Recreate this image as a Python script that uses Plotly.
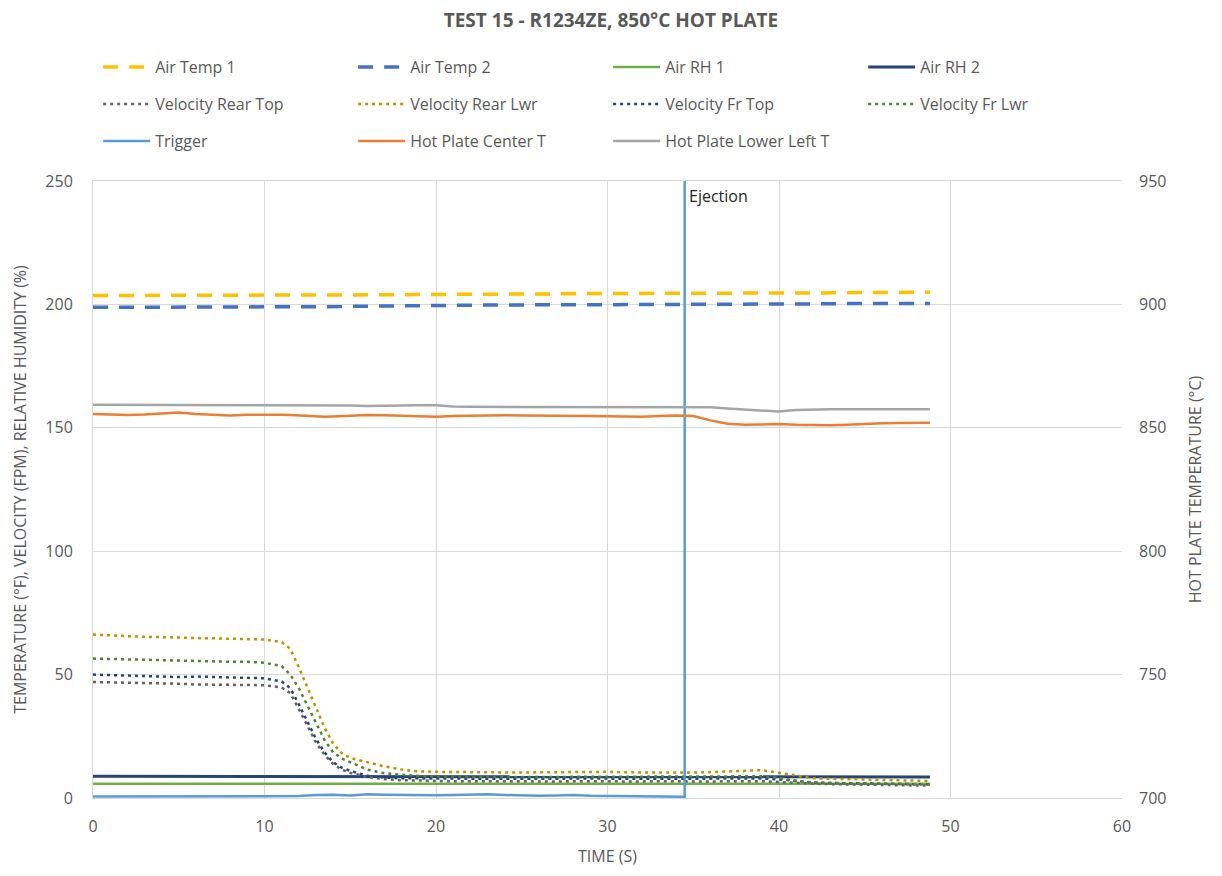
import plotly.graph_objects as go

time = [0, 1, 2, 3, 4, 5, 6, 7, 8, 9, 10, 11,
        11.5, 12, 12.5, 13, 13.5, 14, 14.5, 15,
        16, 17, 18, 19, 20, 21, 22, 23, 24, 25, 26, 27, 28, 29, 30, 31, 32,
        33, 34, 35, 36, 37, 38, 39, 40, 41, 42, 43, 44, 45, 46, 47, 48, 48.8]

air_temp_1 = [203.6, 203.6, 203.6, 203.6, 203.6, 203.6, 203.6, 203.6, 203.6, 203.6, 203.6, 203.6,
              203.6, 203.6, 203.6, 203.6, 203.6, 203.7, 203.7, 203.7,
              203.8, 203.9, 203.9, 204.0, 204.0, 204.0, 204.1, 204.1, 204.2, 204.2, 204.3, 204.3,
              204.3, 204.4, 204.4, 204.4, 204.5, 204.5, 204.5, 204.5, 204.6, 204.6, 204.6, 204.6,
              204.6, 204.6, 204.7, 204.7, 204.7, 204.8, 204.8, 204.8, 204.9, 204.9]
air_temp_2 = [198.8, 198.8, 198.8, 198.8, 198.8, 198.8, 198.8, 198.8, 198.8, 198.8, 198.8, 198.8,
              198.9, 198.9, 198.9, 199.0, 199.0, 199.1, 199.1, 199.2,
              199.3, 199.4, 199.5, 199.6, 199.7, 199.7, 199.8, 199.8, 199.8, 199.8, 199.9, 199.9,
              199.9, 199.9, 199.9, 199.9, 200.0, 200.0, 200.0, 200.0, 200.0, 200.1, 200.1, 200.1,
              200.2, 200.2, 200.2, 200.3, 200.3, 200.3, 200.3, 200.4, 200.4, 200.4]
air_rh_1 = [5.8] * 54
air_rh_2 = [8.8, 8.8, 8.8, 8.8, 8.8, 8.8, 8.8, 8.8, 8.8, 8.8, 8.8, 8.8,
            8.8, 8.8, 8.8, 8.8, 8.8, 8.8, 8.8, 8.8,
            8.8, 8.8, 8.8, 8.8, 8.8, 8.8, 8.8, 8.8, 8.8, 8.7, 8.7, 8.7, 8.7, 8.7, 8.7, 8.7, 8.7,
            8.7, 8.7, 8.7, 8.7, 8.7, 8.6, 8.6, 8.6, 8.6, 8.6, 8.6, 8.5, 8.5, 8.5, 8.5, 8.5, 8.5]

vel_rear_top = [47.0, 46.9, 46.8, 46.7, 46.6, 46.3, 46.0, 46.0, 45.9, 45.8, 45.7, 44.8,
                42.5, 36.0, 29.0, 22.5, 17.5, 13.8, 11.5, 10.2,
                8.5, 7.6, 7.2, 7.0, 6.9, 6.8, 6.8, 6.9, 6.8, 6.8, 6.7, 6.8, 6.8, 6.9, 6.8, 6.7, 6.8,
                6.8, 6.8, 6.7, 6.8, 6.8, 6.9, 6.8, 6.5, 6.0, 5.8, 5.6, 5.5, 5.4, 5.3, 5.2, 5.1, 5.0]
vel_rear_lwr = [66.2, 65.8, 65.5, 65.3, 65.2, 64.9, 64.8, 64.7, 64.6, 64.5, 64.2, 63.2,
                60.5, 53.0, 45.0, 36.5, 28.5, 22.0, 18.2, 16.2,
                14.5, 12.8, 11.5, 10.8, 10.6, 10.5, 10.4, 10.4, 10.5, 10.3, 10.4, 10.5, 10.6, 10.5,
                10.6, 10.4, 10.3, 10.5, 10.2, 10.3, 10.5, 10.6, 11.0, 11.3, 10.2, 9.0, 8.0, 7.8,
                7.6, 7.5, 7.4, 7.2, 7.0, 6.9]
vel_fr_top = [50.0, 49.8, 49.6, 49.5, 49.3, 49.0, 49.2, 49.0, 48.9, 48.8, 48.5, 47.2,
              44.5, 38.0, 31.0, 24.0, 18.5, 14.5, 12.3, 11.0,
              9.0, 8.3, 8.0, 7.9, 7.8, 7.8, 7.9, 7.8, 7.8, 7.7, 7.8, 7.8, 7.9, 7.8, 7.8, 7.7, 7.8,
              7.8, 7.8, 7.8, 7.9, 7.8, 7.8, 7.9, 7.5, 6.8, 6.3, 6.1, 6.0, 5.9, 5.8, 5.7, 5.6, 5.5]
vel_fr_lwr = [56.5, 56.3, 56.2, 56.0, 55.8, 55.5, 55.4, 55.3, 55.2, 55.2, 54.8, 53.5,
              50.0, 44.5, 37.5, 30.0, 23.5, 18.5, 16.0, 14.5,
              11.5, 10.0, 9.3, 8.9, 8.7, 8.6, 8.6, 8.5, 8.6, 8.5, 8.5, 8.6, 8.5, 8.6, 8.5, 8.5, 8.6,
              8.5, 8.5, 8.6, 8.5, 8.6, 8.7, 8.8, 8.2, 7.0, 6.3, 6.0, 5.9, 5.8, 5.7, 5.6, 5.6, 5.5]

trigger_time = [0, 1, 2, 3, 4, 5, 6, 7, 8, 9, 10, 11, 12, 13, 14, 15, 16, 17, 18, 19, 20,
                21, 22, 23, 24, 25, 26, 27, 28, 29, 30, 31, 32, 33, 34, 34.5, 34.5]
trigger = [0.6, 0.6, 0.7, 0.6, 0.6, 0.7, 0.6, 0.6, 0.7, 0.6, 0.6, 0.5, 0.8, 1.2, 1.3, 1.0,
           1.5, 1.3, 1.2, 1.0, 1.1, 1.2, 1.3, 1.5, 1.2, 1.0, 0.9, 1.0, 1.2, 0.9, 0.8, 0.7,
           0.6, 0.5, 0.5, 0.5, 400]

hp_center = [855.6, 855.3, 855.2, 855.4, 855.9, 856.2, 855.6, 855.2, 855.0, 855.3, 855.4, 855.3,
             855.2, 855.0, 854.9, 854.7, 854.5, 854.6, 854.8, 855.0,
             855.2, 855.1, 854.9, 854.6, 854.5, 854.8, 855.0, 855.2, 855.1, 855.0, 855.0, 855.1,
             855.0, 854.8, 854.7, 854.6, 854.5, 854.8, 855.0, 854.8, 853.0, 851.6, 851.2, 851.3,
             851.5, 851.2, 851.0, 851.0, 851.2, 851.6, 851.8, 851.9, 852.0, 852.0]
hp_lower_left = [859.3, 859.3, 859.2, 859.2, 859.3, 859.3, 859.2, 859.2, 859.3, 859.3, 859.2, 859.2,
                 859.2, 859.3, 859.3, 859.2, 859.2, 859.2, 859.1, 859.0,
                 858.8, 859.0, 859.1, 859.1, 859.1, 858.6, 858.5, 858.5, 858.5, 858.5, 858.5, 858.5,
                 858.5, 858.5, 858.5, 858.5, 858.5, 858.5, 858.5, 858.4, 858.3, 857.8, 857.3, 856.8,
                 856.6, 857.2, 857.5, 857.5, 857.5, 857.5, 857.5, 857.5, 857.5, 857.5]

x_ticks = [0, 10, 20, 30, 40, 50, 60]
y_ticks = [0, 50, 100, 150, 200, 250]
y2_ticks = [700, 750, 800, 850, 900, 950]

FONT = "Open Sans"
GREY_TXT = "#595959"
GRID = "#d9d9d9"
DOT = "3px,4px"
DASH = "15px,11px"

fig = go.Figure()

def add(x, y, name, color, dash="solid", width=2.5, yaxis="y", legend="legend"):
    fig.add_trace(go.Scatter(x=x, y=y, name=name, mode="lines", yaxis=yaxis,
                             line=dict(color=color, dash=dash, width=width),
                             legend=legend))

add(time, air_temp_1, "Air Temp 1", "#FFC000", dash=DASH, width=3.5)
add(time, air_temp_2, "Air Temp 2", "#4472C4", dash=DASH, width=3.5)
add(time, air_rh_1, "Air RH 1", "#70AD47", width=2.5)
add(time, air_rh_2, "Air RH 2", "#264478", width=3)
add(time, vel_rear_top, "Velocity Rear Top", "#636363", dash=DOT, width=2.5, legend="legend2")
add(time, vel_rear_lwr, "Velocity Rear Lwr", "#BF9000", dash=DOT, width=2.5, legend="legend2")
add(time, vel_fr_top, "Velocity Fr Top", "#264478", dash=DOT, width=2.5, legend="legend2")
add(time, vel_fr_lwr, "Velocity Fr Lwr", "#548235", dash=DOT, width=2.5, legend="legend2")
add(trigger_time, trigger, "Trigger", "#5B9BD5", width=2.5, legend="legend3")
add(time, hp_center, "Hot Plate Center T", "#ED7D31", width=2.5, yaxis="y2", legend="legend3")
add(time, hp_lower_left, "Hot Plate Lower Left T", "#A5A5A5", width=2.5, yaxis="y2", legend="legend3")

legend_common = dict(orientation="h", x=0.005, xanchor="left", yanchor="middle",
                     entrywidth=193, entrywidthmode="pixels", itemwidth=47,
                     bgcolor="rgba(0,0,0,0)",
                     font=dict(family=FONT, size=16, color=GREY_TXT), traceorder="normal")

fig.add_annotation(x=34.5, y=244, xref="x", yref="y", text="Ejection", showarrow=False,
                   xanchor="left", yanchor="middle", xshift=2,
                   font=dict(family=FONT, size=16, color="#262626"))

# page body has an 8px default margin; figure sized so the plot area lands where the reference has it
fig.update_layout(
    width=1206, height=860,
    paper_bgcolor="white", plot_bgcolor="white",
    margin=dict(l=85, r=92, t=173, b=70, autoexpand=False),
    title=dict(text="<b>TEST 15 - R1234ZE, 850°C HOT PLATE</b>", x=0.5, xanchor="center",
               y=1 - 12 / 860, yanchor="middle", yref="container",
               font=dict(family=FONT, size=19, color=GREY_TXT)),
    legend=dict(y=(798 - 67) / 617, **legend_common),
    legend2=dict(y=(798 - 104) / 617, **legend_common),
    legend3=dict(y=(798 - 141) / 617, **legend_common),
    xaxis=dict(range=[0, 60], tickvals=x_ticks, showgrid=True, gridcolor=GRID, gridwidth=1,
               zeroline=False, showline=True, linecolor=GRID, mirror=True,
               ticks="", ticklabelstandoff=14,
               tickfont=dict(family=FONT, size=16, color=GREY_TXT),
               title=dict(text="TIME (S)", font=dict(family=FONT, size=16, color=GREY_TXT),
                          standoff=14)),
    yaxis=dict(range=[0, 250], tickvals=y_ticks, showgrid=True,
               gridcolor=GRID, gridwidth=1, zeroline=False, showline=True, linecolor=GRID,
               ticks="", ticklabelstandoff=16,
               tickfont=dict(family=FONT, size=16, color=GREY_TXT),
               title=dict(text="TEMPERATURE (°F), VELOCITY (FPM), RELATIVE HUMIDITY (%)",
                          font=dict(family=FONT, size=16, color=GREY_TXT), standoff=14)),
    yaxis2=dict(range=[700, 950], tickvals=y2_ticks, overlaying="y",
                side="right", showgrid=False, zeroline=False, showline=False, ticks="",
                ticklabelstandoff=16,
                tickfont=dict(family=FONT, size=16, color=GREY_TXT),
                title=dict(text="HOT PLATE TEMPERATURE (°C)",
                           font=dict(family=FONT, size=16, color=GREY_TXT), standoff=24)),
)

fig.write_html("out.html")
